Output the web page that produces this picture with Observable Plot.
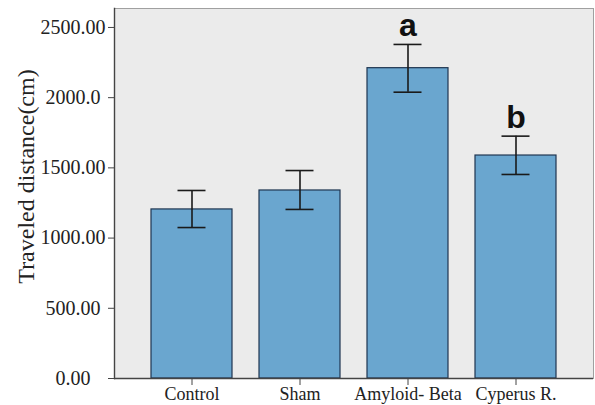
<!DOCTYPE html>
<html>
<head>
<meta charset="utf-8">
<script src="https://cdn.jsdelivr.net/npm/d3@7"></script>
<script src="https://cdn.jsdelivr.net/npm/@observablehq/plot@0.6"></script>
<style>
  html, body { margin: 0; padding: 0; background: #ffffff; }
  #chart svg { display: block; }
</style>
</head>
<body>
<div id="chart"></div>
<script>
const categories = ["Control", "Sham", "Amyloid- Beta", "Cyperus R."];
const means = [1204, 1339, 2210, 1588];
const errLow = [1075, 1204, 2039, 1453];
const errHigh = [1339, 1481, 2379, 1726];
const letters = ["", "", "a", "b"];
const yTicks = [0, 500, 1000, 1500, 2000, 2500];
const yTickLabels = ["0.00\u00a0\u00a0\u00a0", "500.00\u00a0", "1000.00", "1500.00", "2000.0\u00a0", "2500.00"];
const yLabel = "Traveled distance(cm)";

const data = categories.map((c, i) => ({
  cat: c, mean: means[i], lo: errLow[i], hi: errHigh[i], letter: letters[i]
}));

const chart = Plot.plot({
  width: 595,
  height: 405,
  marginLeft: 114,
  marginRight: 2,
  marginTop: 8,
  marginBottom: 27,
  style: { fontFamily: "Liberation Serif", color: "#222", background: "#ffffff" },
  x: { domain: categories, paddingInner: 0.252, paddingOuter: 0.3375, axis: null },
  y: { domain: [0, 2635], axis: null },
  marks: [
    Plot.frame({ fill: "#ebebeb", stroke: "#a0a0a0" }),
    Plot.barY(data, { x: "cat", y: "mean", fill: "#6aa6cf", stroke: "#1f3550", strokeWidth: 1.2 }),
    Plot.ruleX(data, { x: "cat", y1: "lo", y2: "hi", stroke: "#1a1a1a", strokeWidth: 1.6 }),
    Plot.tickY(data, { x: "cat", y: "hi", stroke: "#1a1a1a", strokeWidth: 1.6, insetLeft: 26.5, insetRight: 26.5 }),
    Plot.tickY(data, { x: "cat", y: "lo", stroke: "#1a1a1a", strokeWidth: 1.6, insetLeft: 26.5, insetRight: 26.5 }),
    Plot.text(data, { x: "cat", y: "hi", text: "letter", lineAnchor: "bottom", dy: -8,
      fontFamily: "Liberation Sans", fontWeight: "bold", fontSize: 32, fill: "#111" }),
    Plot.frame({ anchor: "left", stroke: "#444", strokeWidth: 1.4 }),
    Plot.ruleY([0], { stroke: "#444", strokeWidth: 1.4 }),
    Plot.axisY({ ticks: yTicks, tickFormat: (d) => yTickLabels[yTicks.indexOf(d)], tickSize: 6, tickPadding: 3,
      fontSize: 20, label: null, stroke: "#444" }),
    Plot.text([yLabel], { text: (d) => d, frameAnchor: "left", rotate: -90, textAnchor: "middle",
      lineAnchor: "bottom", dx: -81, dy: -17, fontSize: 24, fill: "#222" }),
    Plot.axisX({ tickSize: 7, tickPadding: 2, fontSize: 18, label: null, stroke: "#444" })
  ]
});
document.getElementById("chart").appendChild(chart);
</script>
</body>
</html>
